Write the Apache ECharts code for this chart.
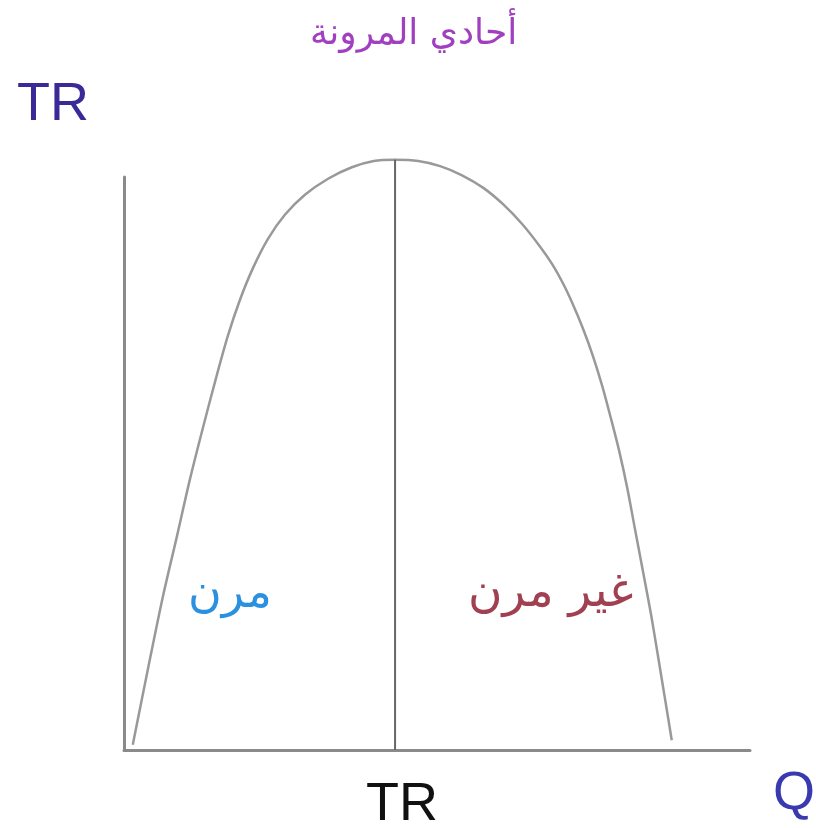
<!DOCTYPE html>
<html>
<head>
<meta charset="utf-8">
<script src="https://cdn.jsdelivr.net/npm/echarts@6/dist/echarts.min.js"></script>
<style>
  html, body { margin: 0; padding: 0; background: #fff; }
  #main { width: 816px; height: 828px; }
</style>
</head>
<body>
<div id="main"></div>
<script>
// TR curve (Q, TR)
const curveQ = [1.4, 3.8, 6.2, 8.5, 10.5, 12.6, 14.7, 16.6, 18.5, 20.6, 23.0, 25.7, 28.9, 32.6, 36.4, 39.9, 43.3,
  47.0, 50.5, 54.0, 57.4, 60.5, 63.6, 66.5, 68.4, 70.1, 71.7, 73.3, 74.9, 76.4, 77.8, 79.1, 80.4, 81.6, 82.9, 84.2, 85.3, 86.4, 87.5];
const curveTR = [0.9, 14.0, 26.7, 37.5, 47.1, 56.2, 64.9, 72.3, 78.5, 84.1, 89.2, 93.4, 96.9, 99.7, 101.7, 102.8, 103.0,
  102.8, 101.9, 100.3, 98.1, 95.3, 91.8, 87.8, 84.8, 81.5, 77.8, 73.6, 68.8, 63.5, 57.8, 52.2, 45.7, 38.7, 31.2, 23.6, 16.4, 9.1, 1.7];
// unit elastic point
const peakQ = 43.3;
const peakTR = 103.0;

const titleText = 'أحادي المرونة';
const elasticText = 'مرن';
const inelasticText = 'غير مرن';

const chart = echarts.init(document.getElementById('main'));

const option = {
  animation: false,
  backgroundColor: '#fff',
  grid: { left: 124, right: 66, top: 177, bottom: 78 },
  xAxis: {
    type: 'value', min: 0, max: 100,
    axisLine: { show: true, lineStyle: { color: '#8a8a8a', width: 3 } },
    axisTick: { show: false }, axisLabel: { show: false }, splitLine: { show: false }
  },
  yAxis: {
    type: 'value', min: 0, max: 100,
    axisLine: { show: true, lineStyle: { color: '#8a8a8a', width: 3 } },
    axisTick: { show: false }, axisLabel: { show: false }, splitLine: { show: false }
  },
  series: [
    {
      type: 'line',
      data: curveQ.map((q, i) => [q, curveTR[i]]),
      smooth: 0.3,
      showSymbol: false,
      clip: false,
      lineStyle: { color: '#999', width: 2.5 }
    },
    {
      type: 'line',
      data: [[peakQ, 0], [peakQ, peakTR]],
      showSymbol: false,
      clip: false,
      lineStyle: { color: '#666', width: 2 }
    }
  ],
  graphic: [
    { type: 'text', left: 310, top: 17,
      style: { text: titleText, fill: '#a040c0', font: '36px "DejaVu Sans"' } },
    { type: 'text', left: 17, top: 78,
      style: { text: 'TR', fill: '#3a2a98', font: '54px "Liberation Sans"' } },
    { type: 'text', left: 366, top: 778,
      style: { text: 'TR', fill: '#111', font: '54px "Liberation Sans"' } },
    { type: 'text', left: 773, top: 767,
      style: { text: 'Q', fill: '#3a3ab0', font: '54px "Liberation Sans"' } },
    { type: 'text', left: 188, top: 572,
      style: { text: elasticText, fill: '#2a90e0', font: '46px "DejaVu Sans"' } },
    { type: 'text', left: 468, top: 570,
      style: { text: inelasticText, fill: '#a04050', font: '47px "DejaVu Sans"' } }
  ]
};

chart.setOption(option);
</script>
</body>
</html>
